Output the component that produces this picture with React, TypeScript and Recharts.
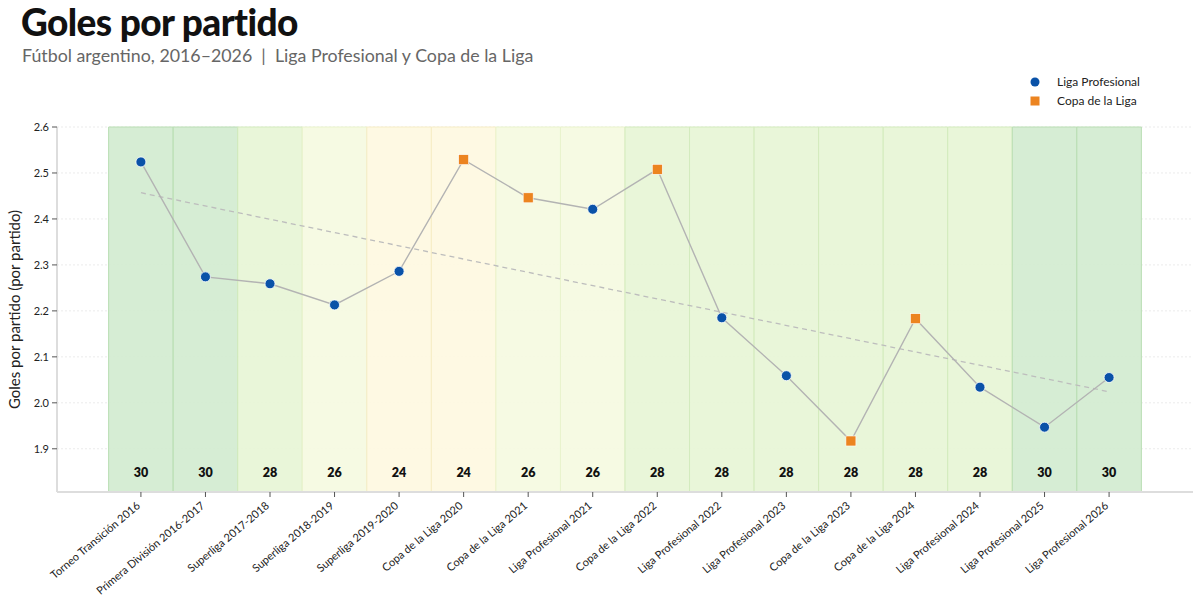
import React from 'react';
import {
  ComposedChart,
  Line,
  Scatter,
  XAxis,
  YAxis,
  CartesianGrid,
  ReferenceArea,
} from 'recharts';

const categories = [
  'Torneo Transición 2016',
  'Primera División 2016-2017',
  'Superliga 2017-2018',
  'Superliga 2018-2019',
  'Superliga 2019-2020',
  'Copa de la Liga 2020',
  'Copa de la Liga 2021',
  'Liga Profesional 2021',
  'Copa de la Liga 2022',
  'Liga Profesional 2022',
  'Liga Profesional 2023',
  'Copa de la Liga 2023',
  'Copa de la Liga 2024',
  'Liga Profesional 2024',
  'Liga Profesional 2025',
  'Liga Profesional 2026',
];

const golesPorPartido = [
  2.524, 2.274, 2.259, 2.213, 2.286, 2.529, 2.446, 2.421, 2.508, 2.185, 2.059, 1.917, 2.183, 2.034, 1.947,
  2.055,
];

const competicion = [
  'Liga', 'Liga', 'Liga', 'Liga', 'Liga', 'Copa', 'Copa', 'Liga', 'Copa', 'Liga', 'Liga', 'Copa', 'Copa',
  'Liga', 'Liga', 'Liga',
];

const equipos = [30, 30, 28, 26, 24, 24, 26, 26, 28, 28, 28, 28, 28, 28, 30, 30];

const tendencia = [2.457, 2.024];

const yTicks = [1.9, 2.0, 2.1, 2.2, 2.3, 2.4, 2.5, 2.6];

const bandFill: Record<number, string> = {
  30: '#d3ecd0',
  28: '#e7f5d6',
  26: '#f5fae1',
  24: '#fef8e1',
};
const bandStroke: Record<number, string> = {
  30: '#b9deb3',
  28: '#d3ebbd',
  26: '#e9f3cc',
  24: '#f6edc6',
};

const BLUE = '#0a52a8';
const ORANGE = '#ec8420';
const FONT = "Lato, 'Noto Sans', sans-serif";

const data = categories.map((c, i) => ({ idx: i, name: c, value: golesPorPartido[i] }));
const ligaData = data.filter((d, i) => competicion[i] === 'Liga');
const copaData = data.filter((d, i) => competicion[i] === 'Copa');
const trendData = [
  { idx: 0, trend: tendencia[0] },
  { idx: categories.length - 1, trend: tendencia[1] },
];

const XTick = (props: any) => {
  const { x, y, payload } = props;
  const label = categories[payload.value] ?? '';
  return (
    <g transform={`translate(${x},${y + 8})`}>
      <text
        x={0}
        y={0}
        textAnchor="end"
        transform="rotate(-40)"
        fontSize={11}
        fill="#222"
        fontFamily={FONT}
      >
        {label}
      </text>
    </g>
  );
};

const Circle = (props: any) => {
  const { cx, cy } = props;
  if (cx == null || cy == null) return null;
  return <circle cx={cx} cy={cy} r={5} fill={BLUE} stroke="#fff" strokeWidth={0.8} />;
};

const Square = (props: any) => {
  const { cx, cy } = props;
  if (cx == null || cy == null) return null;
  return <rect x={cx - 5} y={cy - 5} width={10} height={10} fill={ORANGE} stroke="#fff" strokeWidth={0.6} />;
};

const LegendBox = () => (
  <div
    style={{
      position: 'absolute',
      left: 1028,
      top: 72,
      fontFamily: FONT,
      fontSize: 12,
      color: '#222',
      lineHeight: '19px',
    }}
  >
    <div style={{ display: 'flex', alignItems: 'center' }}>
      <svg width={14} height={12} style={{ marginRight: 15 }}>
        <circle cx={7} cy={6} r={4.5} fill={BLUE} />
      </svg>
      Liga Profesional
    </div>
    <div style={{ display: 'flex', alignItems: 'center' }}>
      <svg width={14} height={12} style={{ marginRight: 15 }}>
        <rect x={2.5} y={1.5} width={9} height={9} fill={ORANGE} />
      </svg>
      Copa de la Liga
    </div>
  </div>
);

export default function App() {
  return (
    <div
      style={{
        position: 'absolute',
        left: 0,
        top: 0,
        width: 1200,
        height: 598,
        background: '#fff',
        fontFamily: FONT,
      }}
    >
      <div
        style={{
          position: 'absolute',
          left: 21,
          top: 0,
          fontSize: 37,
          fontWeight: 900,
          color: '#111',
          letterSpacing: -0.6,
          lineHeight: '44px',
        }}
      >
        Goles por partido
      </div>
      <div
        style={{
          position: 'absolute',
          left: 22,
          top: 42,
          fontSize: 17.8,
          color: '#666',
          lineHeight: '26px',
          whiteSpace: 'pre',
        }}
      >
        {'Fútbol argentino, 2016–2026  |  Liga Profesional y Copa de la Liga'}
      </div>
      <ComposedChart
        width={1200}
        height={598}
        data={data}
        margin={{ top: 127, right: 7, bottom: 0, left: 0 }}
        style={{ position: 'absolute', left: 0, top: 0 }}
      >
        <CartesianGrid vertical={false} stroke="#ebebeb" strokeDasharray="2 2" />
        {categories.map((c, i) => (
          <ReferenceArea
            key={c}
            x1={i - 0.5}
            x2={i + 0.5}
            fill={bandFill[equipos[i]]}
            fillOpacity={0.92}
            stroke={bandStroke[equipos[i]]}
            strokeWidth={1}
            label={{
              value: String(equipos[i]),
              position: 'insideBottom',
              offset: 15,
              fill: '#111',
              fontSize: 12.5,
              fontWeight: 800,
              fontFamily: FONT,
            }}
          />
        ))}
        <XAxis
          dataKey="idx"
          type="number"
          domain={[-1.3, 16.3]}
          ticks={categories.map((_, i) => i)}
          interval={0}
          allowDataOverflow
          height={106}
          axisLine={{ stroke: '#dddddd', strokeWidth: 2 }}
          tickLine={{ stroke: '#555' }}
          tickSize={5}
          tick={<XTick />}
        />
        <YAxis
          type="number"
          domain={[1.806, 2.6]}
          ticks={yTicks}
          allowDataOverflow
          width={57}
          axisLine={{ stroke: '#dddddd', strokeWidth: 2 }}
          tickLine={{ stroke: '#555' }}
          tickSize={5}
          tickMargin={3}
          tick={{ fontSize: 11, fill: '#222', fontFamily: FONT }}
          tickFormatter={(v: number) => v.toFixed(1)}
          label={{
            value: 'Goles por partido (por partido)',
            angle: -90,
            position: 'center',
            dx: -14,
            fill: '#222',
            fontSize: 15,
            fontFamily: FONT,
          }}
        />
        <Line
          data={trendData}
          dataKey="trend"
          stroke="#bdbdbd"
          strokeWidth={1.3}
          strokeDasharray="5 4"
          dot={false}
          activeDot={false}
          isAnimationActive={false}
          legendType="none"
        />
        <Line
          dataKey="value"
          stroke="#b3b3b3"
          strokeWidth={1.4}
          dot={false}
          activeDot={false}
          isAnimationActive={false}
          legendType="none"
        />
        <Scatter name="Liga Profesional" data={ligaData} dataKey="value" shape={<Circle />} isAnimationActive={false} />
        <Scatter name="Copa de la Liga" data={copaData} dataKey="value" shape={<Square />} isAnimationActive={false} />
      </ComposedChart>
      <LegendBox />
    </div>
  );
}
